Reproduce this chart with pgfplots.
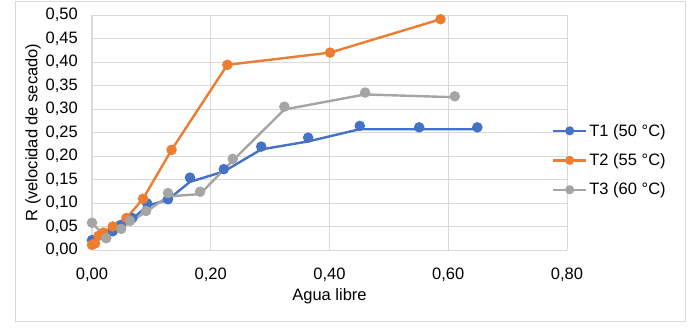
\documentclass[border=0pt]{standalone}
\usepackage{fontspec}
\setmainfont{Liberation Sans}
\usepackage{pgfplots}
\pgfplotsset{compat=1.18}
\definecolor{cA}{HTML}{4472C4}
\definecolor{cB}{HTML}{ED7D31}
\definecolor{cC}{HTML}{A5A5A5}
\definecolor{gridc}{HTML}{D9D9D9}
\newcommand{\cf}{\fontsize{16.5}{19}\selectfont}
\begin{document}
\begin{tikzpicture}[x=1pt,y=1pt]
\path[use as bounding box] (0,0) rectangle (690,332);
\draw[gridc, line width=1pt] (15,11) rectangle (685,330);
\begin{axis}[
  at={(92pt,82pt)}, anchor=south west,
  scale only axis, width=475pt, height=235pt,
  xmin=0, xmax=0.8, ymin=0, ymax=0.5,
  xtick={0,0.2,0.4,0.6,0.8},
  ytick={0,0.05,0.1,0.15,0.2,0.25,0.3,0.35,0.4,0.45,0.5},
  /pgf/number format/assume math mode=true,
  xticklabel={\pgfmathprintnumber[fixed,fixed zerofill,precision=2,use comma]{\tick}},
  yticklabel={\pgfmathprintnumber[fixed,fixed zerofill,precision=2,use comma]{\tick}},
  scaled ticks=false,
  grid=major,
  major grid style={gridc, line width=1pt},
  axis line style={draw=none},
  major tick length=0pt,
  tick style={draw=none},
  xticklabel style={anchor=north, inner sep=0pt, yshift=-18pt, font=\cf},
  yticklabel style={anchor=east, inner sep=0pt, xshift=-14pt, font=\cf},
  xlabel={Agua libre},
  ylabel={R (velocidad de secado)},
  xlabel style={at={(axis description cs:0.5,-0.1617)}, anchor=north, inner sep=0pt, font=\cf},
  ylabel style={at={(axis description cs:-0.1074,0.5)}, anchor=south, inner sep=0pt, font=\cf},
  legend style={at={(axis description cs:0.968,0.545)}, anchor=north west, draw=none, fill=none,
    inner sep=0pt, row sep=12pt, font=\cf, nodes={inner sep=2pt}},
  legend cell align=left,
  legend image code/.code={\draw[#1, sharp plot, mark repeat=2, mark phase=2, mark size=3.3pt] plot coordinates {(0pt,0pt) (16.5pt,0pt) (33pt,0pt)};},
  clip=false,
]
% T1
\addplot[cA, line width=2.4pt, forget plot] coordinates {
(0.0,0.019)(0.019,0.034)(0.035,0.040)(0.048,0.052)(0.068,0.066)(0.093,0.094)(0.128,0.107)(0.165,0.145)(0.222,0.167)(0.285,0.214)(0.364,0.231)(0.451,0.257)(0.551,0.257)(0.649,0.257)};
\addplot[cA, line width=2.4pt, only marks, mark=*, mark size=4pt] coordinates {
(0.0,0.021)(0.019,0.035)(0.035,0.040)(0.048,0.053)(0.068,0.068)(0.093,0.099)(0.128,0.108)(0.165,0.154)(0.222,0.172)(0.285,0.220)(0.364,0.239)(0.451,0.264)(0.551,0.261)(0.649,0.261)};
\addlegendentry{T1 (50 °C)}
% T2
\addplot[cB, line width=2.4pt, forget plot] coordinates {
(0.0,0.011)(0.005,0.014)(0.011,0.030)(0.019,0.037)(0.035,0.050)(0.058,0.068)(0.086,0.109)(0.134,0.213)(0.228,0.394)(0.401,0.420)(0.587,0.491)};
\addplot[cB, line width=2.4pt, only marks, mark=*, mark size=4pt] coordinates {
(0.0,0.011)(0.005,0.014)(0.011,0.030)(0.019,0.037)(0.035,0.050)(0.058,0.068)(0.086,0.109)(0.134,0.213)(0.228,0.394)(0.401,0.420)(0.587,0.491)};
\addlegendentry{T2 (55 °C)}
% T3
\addplot[cC, line width=2.4pt, forget plot] coordinates {
(0.0,0.058)(0.024,0.025)(0.049,0.045)(0.064,0.060)(0.091,0.081)(0.128,0.114)(0.182,0.119)(0.237,0.190)(0.324,0.299)(0.46,0.331)(0.611,0.325)};
\addplot[cC, line width=2.4pt, only marks, mark=*, mark size=4pt] coordinates {
(0.0,0.058)(0.024,0.025)(0.049,0.045)(0.064,0.062)(0.091,0.083)(0.128,0.121)(0.182,0.124)(0.237,0.194)(0.324,0.305)(0.46,0.335)(0.611,0.327)};
\addlegendentry{T3 (60 °C)}
\end{axis}
\end{tikzpicture}
\end{document}
